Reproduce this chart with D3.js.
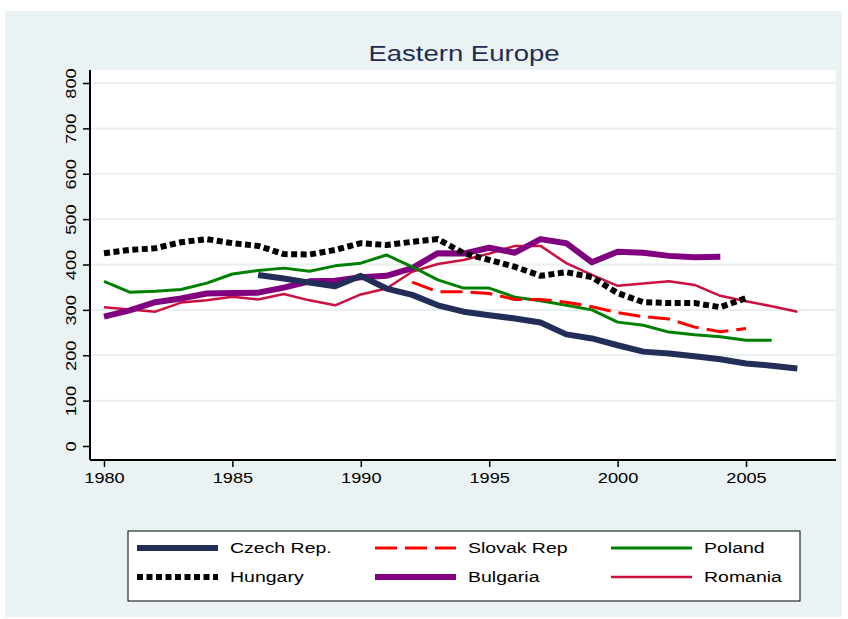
<!DOCTYPE html>
<html>
<head>
<meta charset="utf-8">
<script src="https://cdn.jsdelivr.net/npm/d3@7"></script>
<style>
  body { margin: 0; background: #fff; }
  text { font-family: "Liberation Sans", Arial, sans-serif; }
</style>
</head>
<body>
<div id="chart"></div>
<script>
var years = d3.range(1980, 2008);
var yTicks = [0, 100, 200, 300, 400, 500, 600, 700, 800];
var xTicks = [1980, 1985, 1990, 1995, 2000, 2005];

// values per year, null where no data
var czech = [null, null, null, null, null, null, 377, 369, 360, 352, 375, 347, 333, 310, 296, 288, 281, 272, 246, 237, 222, 208, 204, 198, 191, 182, 177, 171];
var slovak = [null, null, null, null, null, null, null, null, null, null, null, null, 361, 340, 340, 336, 323, 323, 317, 307, 294, 285, 280, 262, 252, 259, null, null];
var poland = [363, 339, 341, 345, 359, 379, 387, 392, 385, 397, 403, 421, 395, 366, 348, 348, 328, 320, 310, 300, 273, 266, 251, 245, 241, 233, 233, null];
var hungary = [425, 432, 436, 449, 456, 447, 441, 423, 422, 432, 447, 443, 450, 456, 425, 410, 395, 375, 383, 372, 337, 317, 315, 315, 306, 326, null, null];
var bulgaria = [285, 299, 317, 325, 336, 337, 338, 349, 363, 364, 372, 375, 392, 425, 424, 437, 426, 456, 447, 405, 428, 426, 419, 416, 417, null, null, null];
var romania = [306, 301, 296, 316, 321, 329, 323, 335, 321, 310, 334, 347, 384, 401, 410, 424, 441, 441, 403, 377, 353, 358, 363, 355, 331, 319, 308, 296];

var seriesNames = ["Czech Rep.", "Slovak Rep", "Poland", "Hungary", "Bulgaria", "Romania"];
var seriesValues = [czech, slovak, poland, hungary, bulgaria, romania];
var seriesColors = ["#222d58", "#ff0000", "#008000", "#000000", "#800080", "#cc1040"];
var seriesWidths = [6, 3, 3, 6, 6, 2.5];
var seriesDash = [null, "22,8", null, "6,3.5", null, null];

var width = 848, height = 619;
var stretch = 1.3; // text in the original is drawn wide

var svg = d3.select("#chart").append("svg")
  .attr("width", width)
  .attr("height", height);

// outer region
svg.append("rect")
  .attr("x", 5).attr("y", 11)
  .attr("width", 837).attr("height", 606)
  .attr("fill", "#eaf2f3");

var plot = { left: 90, right: 836, top: 70, bottom: 460 };

svg.append("rect")
  .attr("x", plot.left).attr("y", plot.top)
  .attr("width", plot.right - plot.left).attr("height", plot.bottom - plot.top)
  .attr("fill", "#fff");

var x = d3.scaleLinear().domain([1980, 2005]).range([104, 746]);
var y = d3.scaleLinear().domain([0, 800]).range([446, 83]);

// title
svg.append("text")
  .attr("transform", "translate(464,61) scale(1.25,1)")
  .attr("text-anchor", "middle")
  .attr("font-size", 22)
  .attr("fill", "#1e2d52")
  .text("Eastern Europe");

// grid lines
svg.selectAll("line.grid").data(yTicks.filter(function (d) { return d > 0; }))
  .enter().append("line")
  .attr("class", "grid")
  .attr("x1", plot.left).attr("x2", plot.right)
  .attr("y1", function (d) { return y(d); })
  .attr("y2", function (d) { return y(d); })
  .attr("stroke", "#e8f0f2")
  .attr("stroke-width", 2);

// y axis
var yAxis = svg.append("g")
  .attr("transform", "translate(" + plot.left + ",0)")
  .call(d3.axisLeft(y).tickValues(yTicks).tickSize(7));
yAxis.select(".domain").remove();
yAxis.selectAll(".tick line").attr("stroke", "#000").attr("stroke-width", 1.5);
yAxis.selectAll(".tick text")
  .attr("font-size", 14)
  .attr("fill", "#000")
  .attr("text-anchor", "middle")
  .attr("x", 0).attr("y", 0)
  .attr("dy", "0.35em")
  .attr("transform", "translate(-19,0) rotate(-90) scale(" + stretch + ",1)");
svg.append("line")
  .attr("x1", plot.left).attr("x2", plot.left)
  .attr("y1", plot.top).attr("y2", plot.bottom)
  .attr("stroke", "#000").attr("stroke-width", 2);

// x axis
var xAxis = svg.append("g")
  .attr("transform", "translate(0," + plot.bottom + ")")
  .call(d3.axisBottom(x).tickValues(xTicks).tickFormat(d3.format("d")).tickSize(7).tickPadding(6));
xAxis.select(".domain").remove();
xAxis.selectAll(".tick line").attr("stroke", "#000").attr("stroke-width", 1.5);
xAxis.selectAll(".tick text")
  .attr("font-size", 14)
  .attr("fill", "#000")
  .attr("transform", "scale(" + stretch + ",1)");
svg.append("line")
  .attr("x1", plot.left).attr("x2", plot.right)
  .attr("y1", plot.bottom).attr("y2", plot.bottom)
  .attr("stroke", "#000").attr("stroke-width", 2);

// lines
var line = d3.line()
  .defined(function (d) { return d.v !== null; })
  .x(function (d) { return x(d.year); })
  .y(function (d) { return y(d.v); });

var order = [5, 4, 3, 2, 1, 0];
order.forEach(function (i) {
  var data = years.map(function (yr, k) { return { year: yr, v: seriesValues[i][k] }; });
  svg.append("path")
    .datum(data)
    .attr("d", line)
    .attr("fill", "none")
    .attr("stroke", seriesColors[i])
    .attr("stroke-width", seriesWidths[i])
    .attr("stroke-dasharray", seriesDash[i])
    .attr("stroke-linejoin", "round");
});

// legend
svg.append("rect")
  .attr("x", 128).attr("y", 531)
  .attr("width", 672).attr("height", 70)
  .attr("fill", "#fff")
  .attr("stroke", "#000")
  .attr("stroke-width", 1);

var legendCols = [137, 375, 611];
var legendRows = [548, 577];
var legendOrder = [0, 1, 2, 3, 4, 5];
var lg = svg.selectAll("g.legend").data(legendOrder)
  .enter().append("g")
  .attr("class", "legend")
  .attr("transform", function (d, k) {
    return "translate(" + legendCols[k % 3] + "," + legendRows[Math.floor(k / 3)] + ")";
  });
lg.append("line")
  .attr("x1", 0).attr("x2", 81)
  .attr("y1", 0).attr("y2", 0)
  .attr("stroke", function (d) { return seriesColors[d]; })
  .attr("stroke-width", function (d) { return seriesWidths[d]; })
  .attr("stroke-dasharray", function (d) { return seriesDash[d]; });
lg.append("text")
  .attr("transform", "translate(93,0) scale(" + stretch + ",1)")
  .attr("dy", "0.35em")
  .attr("font-size", 15)
  .attr("fill", "#000")
  .text(function (d) { return seriesNames[d]; });
</script>
</body>
</html>
